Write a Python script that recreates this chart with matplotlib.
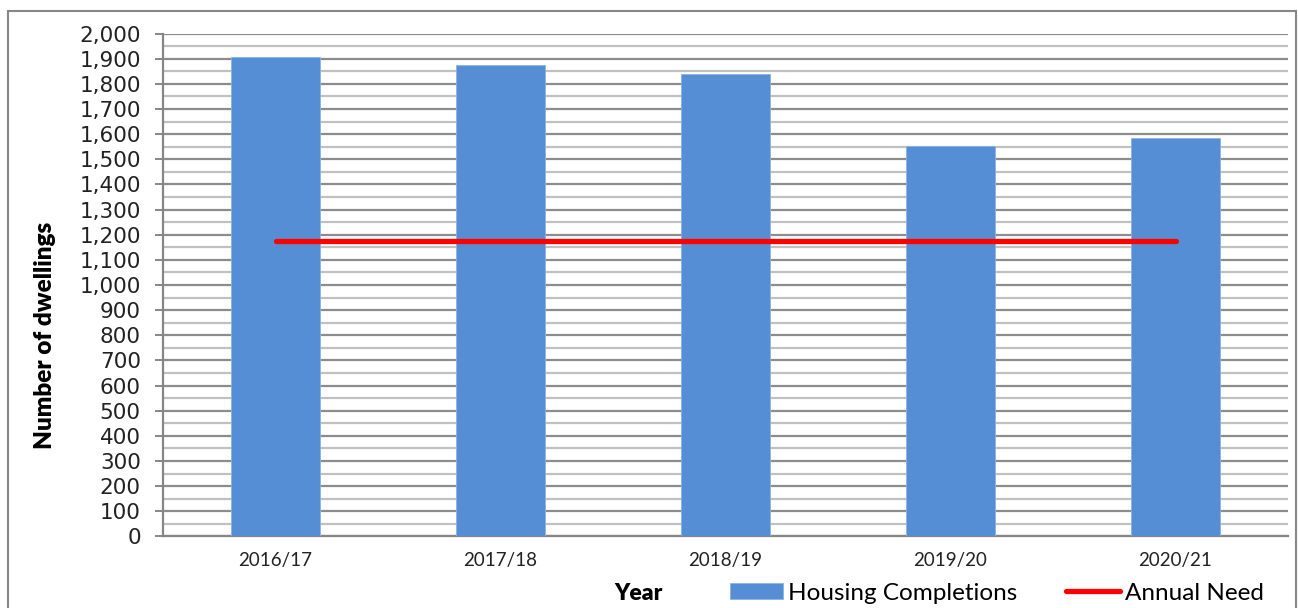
import matplotlib.pyplot as plt
from matplotlib.patches import Rectangle
from matplotlib.ticker import FuncFormatter, MultipleLocator

# Data
years = ["2016/17", "2017/18", "2018/19", "2019/20", "2020/21"]
completions = [1905, 1874, 1840, 1551, 1584]
annual_need = [1175, 1175, 1175, 1175, 1175]

calib = ["Lato", "DejaVu Sans"]

fig = plt.figure(figsize=(12.98, 6.08), dpi=100)
ax = fig.add_axes([0.1256, 0.1176, 0.8667, 0.8273])

x = range(len(years))
bars = ax.bar(x, completions, width=0.395, color="#558ED5", edgecolor="#8DB3E2",
              linewidth=0.6, zorder=3, label="Housing Completions")
line, = ax.plot(x, annual_need, color="#FF0000", linewidth=3.8,
                solid_capstyle="round", zorder=4, label="Annual Need")

ax.set_xlim(-0.5, len(years) - 0.5)
ax.set_ylim(0, 2000)
ax.yaxis.set_major_locator(MultipleLocator(100))
ax.yaxis.set_minor_locator(MultipleLocator(50))
ax.yaxis.set_major_formatter(FuncFormatter(lambda v, p: f"{int(v):,}"))
ax.grid(axis="y", which="major", color="#8C8C8C", linewidth=1.6, zorder=0)
ax.grid(axis="y", which="minor", color="#C0C0C0", linewidth=1.6, zorder=0)
ax.set_axisbelow(True)

for s in ["top", "right"]:
    ax.spines[s].set_visible(False)
ax.spines["left"].set_color("#868686")
ax.spines["left"].set_linewidth(1.6)
ax.spines["bottom"].set_color("#868686")
ax.spines["bottom"].set_linewidth(1.6)

ax.set_xticks(list(x))
ax.set_xticklabels(years, family=calib, fontsize=13.5)
ax.tick_params(axis="x", length=0, pad=11, labelcolor="#222222")
ax.tick_params(axis="y", which="major", length=6, width=1.4, color="#868686",
               labelsize=15.5, pad=10, labelcolor="#222222")
ax.tick_params(axis="y", which="minor", length=0)

ax.set_ylabel("Number of dwellings", fontsize=17.5, fontweight="heavy",
              family=calib)
ax.yaxis.set_label_coords(-0.095, 0.40)

fig.text(638 / 1298, 1 - 593 / 608, "Year", fontsize=16.5, fontweight="heavy",
         family=calib, ha="center", va="center")

fig.legend([bars, line], ["Housing Completions", "Annual Need"],
           loc="center left", bbox_to_anchor=(730 / 1298, 1 - 593 / 608),
           ncol=2, frameon=False, prop={"family": calib, "size": 17.5},
           handlelength=2.2, handleheight=0.62, handletextpad=0.2,
           columnspacing=2.0, borderpad=0, borderaxespad=0)

# outer chart border
fig.patches.append(Rectangle((8 / 1298, -0.05), 1288 / 1298, 1 - 11 / 608 + 0.05,
                             transform=fig.transFigure, fill=False,
                             edgecolor="#878787", linewidth=1.5))

fig.savefig("out.png", dpi=100)
